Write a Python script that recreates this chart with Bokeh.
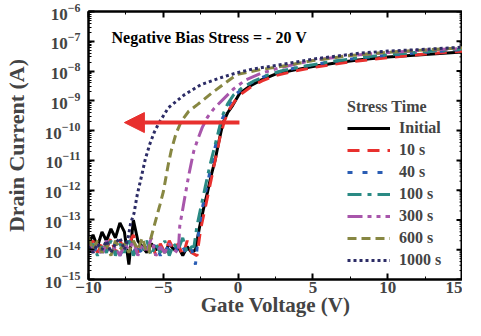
from bokeh.plotting import figure
from bokeh.models import (LinearAxis, Legend, LegendItem, Label, Arrow,
                          NormalHead, SingleIntervalTicker, LogTicker)
from bokeh.embed import file_html
from bokeh.resources import INLINE

# ---------------- data (log10 of drain current in A) ----------------
noise_v = [-10.0, -9.7, -9.4, -9.1, -8.8, -8.5, -8.2, -7.9, -7.6, -7.3, -7.0, -6.7,
           -6.4, -6.1, -5.8, -5.5, -5.2, -4.9, -4.6, -4.3, -4.0, -3.7, -3.4, -3.1]

initial_noise = [-13.8, -13.5, -13.9, -13.4, -13.7, -13.3, -13.6, -13.1, -13.4, -14.5, -13.0, -13.7,
                 -13.9, -14.1, -13.8, -14.0, -13.9, -14.1, -13.8, -14.0, -13.9, -14.2, -13.9, -14.1]
initial_v = [-2.85, -2.6, -2.3, -2.06, -1.8, -1.54, -1.3, -1.0, -0.7, -0.36, 0.1, 0.8, 1.6, 2.5,
             3.8, 5.0, 6.5, 8.0, 10.0, 12.5, 15.0]
initial_logi = [-14.0, -13.3, -12.6, -12.1, -11.5, -11.0, -10.4, -9.72, -9.4, -9.15, -8.75, -8.5,
                -8.29, -8.1, -7.96, -7.85, -7.73, -7.63, -7.53, -7.44, -7.36]

s10_noise = [-14.0, -13.7, -14.1, -13.8, -14.0, -13.6, -14.1, -13.7, -14.0, -13.8, -13.5, -14.1,
             -13.8, -14.0, -13.7, -14.2, -13.8, -14.1, -13.7, -14.0, -13.8, -14.2, -13.7, -14.1]
s10_v = [-2.75, -2.5, -2.2, -1.95, -1.7, -1.45, -1.2, -0.9, -0.55, 0.0, 0.8, 1.6, 2.5, 3.8,
         5.0, 6.5, 8.0, 10.0, 12.5, 15.0]
s10_logi = [-14.2, -13.3, -12.6, -12.0, -11.4, -10.8, -10.2, -9.65, -9.25, -8.85, -8.55, -8.33,
            -8.15, -8.0, -7.88, -7.76, -7.66, -7.55, -7.43, -7.33]

s40_noise = [-13.9, -14.2, -13.8, -14.1, -13.7, -14.0, -13.8, -14.2, -13.9, -13.7, -14.1, -13.8,
             -14.2, -13.9, -14.1, -13.8, -14.2, -13.9, -14.0, -13.8, -14.1, -13.9, -14.2, -14.0]
s40_v = [-2.85, -2.6, -2.35, -2.1, -1.85, -1.6, -1.35, -1.05, -0.7, -0.2, 0.5, 1.4, 2.5, 3.8,
         5.0, 6.5, 8.0, 10.0, 12.5, 15.0]
s40_logi = [-14.5, -13.2, -12.5, -11.9, -11.3, -10.7, -10.15, -9.6, -9.2, -8.8, -8.5, -8.25,
            -8.05, -7.9, -7.79, -7.67, -7.57, -7.47, -7.37, -7.28]

s100_noise = [-14.1, -13.8, -14.2, -13.9, -14.1, -13.7, -14.2, -13.8, -14.1, -13.6, -14.2, -13.9,
              -14.0, -13.7, -14.2, -13.8, -14.1, -13.7, -14.2, -13.8, -14.0, -13.6, -14.1, -13.9]
s100_v = [-2.95, -2.75, -2.5, -2.2, -1.9, -1.6, -1.35, -1.05, -0.7, -0.3, 0.3, 1.0, 2.0, 3.0,
          4.5, 6.0, 8.0, 10.0, 12.5, 15.0]
s100_logi = [-13.9, -13.2, -12.6, -11.9, -11.2, -10.6, -10.1, -9.5, -9.1, -8.8, -8.55, -8.35,
             -8.13, -7.98, -7.83, -7.7, -7.56, -7.45, -7.35, -7.26]

s300_noise = [-13.7, -14.1, -13.8, -14.2, -13.7, -14.1, -13.9, -14.2, -13.8, -14.0, -13.7, -14.2,
              -13.8, -14.1, -13.6, -14.2, -13.9, -14.1, -13.8, -14.0]
s300_v = [-4.0, -3.9, -3.6, -3.3, -2.97, -2.7, -2.4, -2.06, -1.6, -1.0, -0.3, 0.5, 1.5, 2.7,
          4.8, 7.0, 10.0, 12.5, 15.0]
s300_logi = [-14.1, -13.2, -12.35, -11.5, -10.7, -10.3, -9.9, -9.56, -9.25, -8.95, -8.6, -8.3,
             -8.08, -7.9, -7.66, -7.5, -7.38, -7.3, -7.24]

s600_noise = [-13.6, -14.0, -13.7, -14.1, -13.8, -14.2, -13.7, -14.0, -13.8, -14.1, -13.7, -14.0,
              -13.6, -14.1]
s600_v = [-5.95, -5.88, -5.5, -5.23, -5.0, -4.68, -4.47, -4.15, -3.8, -3.3, -2.7, -1.66, -0.1,
          1.5, 2.7, 5.0, 7.5, 10.0, 12.5, 15.0]
s600_logi = [-14.1, -13.7, -13.0, -12.5, -12.06, -11.17, -10.67, -10.1, -9.69, -9.35, -9.12,
             -8.7, -8.12, -7.95, -7.86, -7.65, -7.48, -7.37, -7.29, -7.22]

s1000_noise = [-13.9, -14.1, -13.8, -14.0, -13.7, -14.1, -13.8, -13.6, -14.0]
s1000_v = [-7.35, -7.18, -6.96, -6.74, -6.42, -6.2, -5.9, -5.6, -5.3, -4.66, -3.6, -2.5, -1.2,
           -0.1, 1.0, 2.7, 5.0, 8.1, 10.0, 12.5, 15.0]
s1000_logi = [-13.6, -13.1, -12.78, -12.15, -11.45, -10.95, -10.45, -10.05, -9.75, -9.23, -8.8,
              -8.46, -8.23, -8.06, -7.93, -7.8, -7.6, -7.4, -7.33, -7.27, -7.2]

labels = ["Initial", "10 s", "40 s", "100 s", "300 s", "600 s", "1000 s"]

arrow_v = [0.09, -7.6]
arrow_logi = -9.73

title_text = "Negative Bias Stress = - 20 V"

X_LO, X_HI = -10, 15
Y_EXP_LO, Y_EXP_HI = -15, -6

# ---------------- figure ----------------
FONT = "Liberation Serif"

p = figure(width=462, height=320, x_range=(X_LO, X_HI), y_range=(10.0 ** Y_EXP_LO, 10.0 ** Y_EXP_HI),
           y_axis_type="log", output_backend="svg", toolbar_location=None,
           min_border_left=76, min_border_right=0, min_border_top=11, min_border_bottom=41)
p.background_fill_color = "white"
p.border_fill_color = "white"
p.grid.visible = False
p.outline_line_color = "black"
p.outline_line_width = 2

p.xaxis.ticker = SingleIntervalTicker(interval=5, num_minor_ticks=2)
p.yaxis.ticker = LogTicker(num_minor_ticks=10)

for ax in [p.xaxis[0], p.yaxis[0]]:
    ax.axis_line_width = 2
    ax.major_tick_in = 6
    ax.major_tick_out = 0
    ax.minor_tick_in = 3
    ax.minor_tick_out = 0
    ax.major_tick_line_width = 2
    ax.minor_tick_line_width = 1
    ax.major_label_text_font = FONT
    ax.major_label_text_font_style = "bold"
    ax.major_label_text_font_size = "17px"
    ax.axis_label_text_font = FONT
    ax.axis_label_text_font_style = "bold"

p.xaxis.axis_label = "Gate Voltage (V)"
p.yaxis.axis_label = "Drain Current (A)"
p.yaxis.major_label_standoff = 8
p.yaxis.axis_label_standoff = 13
p.yaxis.axis_label_text_font_size = "22px"
p.xaxis.major_label_standoff = 2
p.xaxis.axis_label_standoff = -3
p.xaxis.axis_label_text_font_size = "21px"

# mirrored ticks on top (axis without labels)
top = LinearAxis(ticker=SingleIntervalTicker(interval=5, num_minor_ticks=2))
top.axis_line_width = 2
top.major_tick_in = 6
top.major_tick_out = 0
top.minor_tick_in = 3
top.minor_tick_out = 0
top.major_tick_line_width = 2
top.major_label_text_font_size = "1px"
top.major_label_text_alpha = 0
top.major_label_standoff = 0
p.add_layout(top, "above")

# mirrored ticks on the right edge (dash markers, half clipped by the frame)
major_y = [10.0 ** e for e in range(Y_EXP_LO, Y_EXP_HI + 1)]
minor_y = [k * 10.0 ** e for e in range(Y_EXP_LO, Y_EXP_HI) for k in range(2, 10)]
p.scatter([X_HI] * len(major_y), major_y, marker="dash", size=12, line_color="black",
          line_width=2)
p.scatter([X_HI] * len(minor_y), minor_y, marker="dash", size=6, line_color="black",
          line_width=1)


def full(noise, v, logi):
    xs = noise_v[:len(noise)] + v
    ys = [10 ** l for l in noise + logi]
    return xs, ys


series = [
    (initial_noise, initial_v, initial_logi, "black", "solid", 3),
    (s10_noise, s10_v, s10_logi, "#e8302e", "12 8", 3),
    (s40_noise, s40_v, s40_logi, "#2a5db4", "5 10", 3),
    (s100_noise, s100_v, s100_logi, "#2a8a84", "14 6 4 6", 3),
    (s300_noise, s300_v, s300_logi, "#a856ab", "15 5 4 5 4 5", 3),
    (s600_noise, s600_v, s600_logi, "#878742", "9 5", 3),
    (s1000_noise, s1000_v, s1000_logi, "#2c2c66", "3 3", 3),
]

items = []
for (noise, v, logi, color, dash, lw), lab in zip(series, labels):
    xs, ys = full(noise, v, logi)
    r = p.line(xs, ys, line_color=color, line_dash=dash, line_width=lw)
    items.append(LegendItem(label=lab, renderers=[r]))

legend = Legend(items=items, title="Stress Time", location=(259, 9),
                background_fill_alpha=0, border_line_alpha=0,
                label_text_font=FONT, label_text_font_style="bold", label_text_font_size="16px",
                title_text_font=FONT, title_text_font_style="bold", title_text_font_size="16px",
                title_standoff=2, glyph_width=43, glyph_height=20, label_height=20,
                label_standoff=9, spacing=2, padding=0, margin=0)
p.add_layout(legend, "center")

arrow = Arrow(end=NormalHead(size=20, fill_color="#e8302e", line_color="#e8302e"),
              x_start=arrow_v[0], y_start=10 ** arrow_logi, x_end=arrow_v[1], y_end=10 ** arrow_logi,
              line_color="#e8302e", line_width=4)
p.add_layout(arrow)

lbl = Label(x=23, y=234, x_units="screen", y_units="screen", text=title_text,
            text_font=FONT, text_font_style="bold", text_font_size="16px", text_color="black")
p.add_layout(lbl)

open("out.html", "w").write(file_html(p, INLINE))
